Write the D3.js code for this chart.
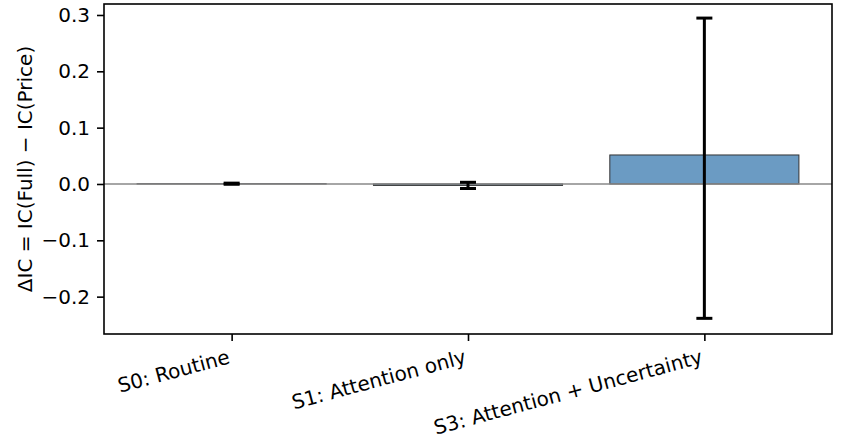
<!DOCTYPE html>
<html>
<head>
<meta charset="utf-8">
<script src="https://cdn.jsdelivr.net/npm/d3@7"></script>
<style>
  body { margin: 0; background: #fff; }
  text { font-family: "DejaVu Sans", sans-serif; }
</style>
</head>
<body>
<div id="chart"></div>
<script>
// data
var categories = ["S0: Routine", "S1: Attention only", "S3: Attention + Uncertainty"];
var deltaIC = [0.0005, -0.0025, 0.0515];
var errLow = [-0.0005, -0.008, -0.2385];
var errHigh = [0.0015, 0.003, 0.2945];
var yTicks = [-0.2, -0.1, 0.0, 0.1, 0.2, 0.3];

var W = 847, H = 439;
var margin = { top: 4, right: 15, bottom: 105, left: 104 };
var fs = 20;

var svg = d3.select("#chart").append("svg")
    .attr("width", W)
    .attr("height", H);

var x = d3.scaleLinear()
    .domain([-0.54, categories.length - 1 + 0.54])
    .range([margin.left, W - margin.right]);

var y = d3.scaleLinear()
    .domain([-0.2663, 0.3195])
    .range([H - margin.bottom, margin.top]);

var barW = x(0.8) - x(0);

// bars
svg.append("g").selectAll("rect")
    .data(deltaIC)
    .enter().append("rect")
    .attr("x", (d, i) => x(i) - barW / 2)
    .attr("y", d => y(Math.max(0, d)))
    .attr("width", barW)
    .attr("height", d => Math.abs(y(d) - y(0)))
    .attr("fill", "#6b9bc3")
    .attr("stroke", "#333")
    .attr("stroke-width", 1);

// zero line
svg.append("line")
    .attr("x1", x.range()[0]).attr("x2", x.range()[1])
    .attr("y1", y(0)).attr("y2", y(0))
    .attr("stroke", "#888")
    .attr("stroke-width", 1.6);

// error bars
var eb = svg.append("g").selectAll("g")
    .data(categories)
    .enter().append("g");
var cap = 8;
eb.append("line")
    .attr("x1", (d, i) => x(i)).attr("x2", (d, i) => x(i))
    .attr("y1", (d, i) => y(errLow[i])).attr("y2", (d, i) => y(errHigh[i]))
    .attr("stroke", "#000").attr("stroke-width", 3);
eb.append("line")
    .attr("x1", (d, i) => x(i) - cap).attr("x2", (d, i) => x(i) + cap)
    .attr("y1", (d, i) => y(errLow[i])).attr("y2", (d, i) => y(errLow[i]))
    .attr("stroke", "#000").attr("stroke-width", 3);
eb.append("line")
    .attr("x1", (d, i) => x(i) - cap).attr("x2", (d, i) => x(i) + cap)
    .attr("y1", (d, i) => y(errHigh[i])).attr("y2", (d, i) => y(errHigh[i]))
    .attr("stroke", "#000").attr("stroke-width", 3);

// y axis
var yAxis = d3.axisLeft(y)
    .tickValues(yTicks)
    .tickSize(7)
    .tickPadding(7)
    .tickFormat(d => d3.format(".1f")(d).replace("-", "\u2212"));
var gy = svg.append("g")
    .attr("transform", "translate(" + margin.left + ",0)")
    .call(yAxis);
gy.select(".domain").remove();
gy.selectAll(".tick line").attr("stroke-width", 1.6);
gy.selectAll("text").attr("font-size", fs).attr("fill", "#000");

// x axis
var xAxis = d3.axisBottom(x)
    .tickValues(d3.range(categories.length))
    .tickSize(7)
    .tickFormat(i => categories[i]);
var gx = svg.append("g")
    .attr("transform", "translate(0," + (H - margin.bottom) + ")")
    .call(xAxis);
gx.select(".domain").remove();
gx.selectAll(".tick line").attr("stroke-width", 1.6);
gx.selectAll("text")
    .attr("font-size", fs)
    .attr("fill", "#000")
    .attr("text-anchor", "end")
    .attr("dy", null)
    .attr("y", null)
    .attr("transform", "translate(-1.2,29) rotate(-15)");

// frame
svg.append("rect")
    .attr("x", margin.left).attr("y", margin.top)
    .attr("width", W - margin.right - margin.left)
    .attr("height", H - margin.bottom - margin.top)
    .attr("fill", "none")
    .attr("stroke", "#000")
    .attr("stroke-width", 1.6);

// y label
svg.append("text")
    .attr("transform", "translate(32," + ((margin.top + H - margin.bottom) / 2) + ") rotate(-90)")
    .attr("text-anchor", "middle")
    .attr("font-size", fs)
    .text("\u0394IC = IC(Full) \u2212 IC(Price)");
</script>
</body>
</html>
